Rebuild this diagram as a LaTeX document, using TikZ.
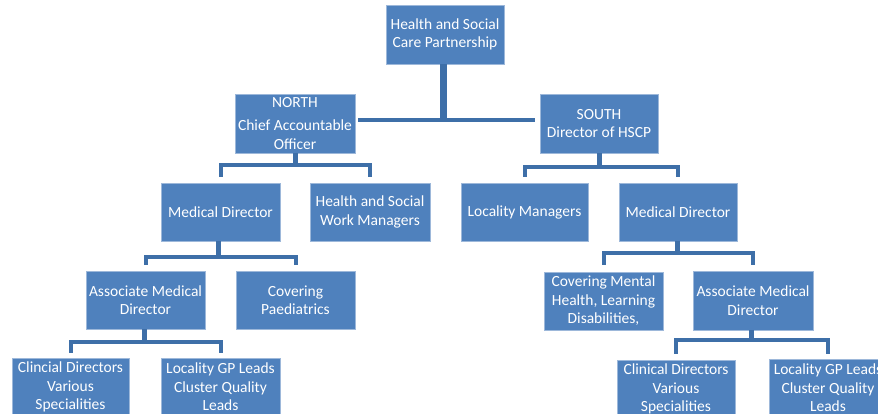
\documentclass[tikz,border=0pt]{standalone}
\usepackage{fontspec}
\setmainfont{Carlito}
\usetikzlibrary{calc}
\definecolor{boxblue}{HTML}{4F81BD}
\definecolor{boxedge}{HTML}{9DB8DA}
\definecolor{linkblue}{HTML}{3E6FA8}
\tikzset{
  orgbox/.style={draw=boxedge, line width=0.8pt, fill=boxblue, text=white,
    inner sep=0pt, align=center, font=\fontsize{15.5}{18.5}\selectfont},
  conn/.style={draw=linkblue, line width=4pt},
  stem/.style={draw=linkblue, line width=5pt},
}
\begin{document}
\begin{tikzpicture}[x=1pt,y=-1pt]
\useasboundingbox (0,0) rectangle (878,414);
\begin{scope}
\clip (0,0) rectangle (878,414);
% nodes
\node[orgbox, minimum width=118, minimum height=59] (hscp) at (445,34.5) {Health and Social\\Care Partnership};
\node[orgbox, minimum width=120, minimum height=59] (north) at (295,123.5) {NORTH\\[5pt]Chief Accountable\\Officer};
\node[orgbox, minimum width=118, minimum height=59] (south) at (599,123.5) {SOUTH\\Director of HSCP};
\node[orgbox, minimum width=119, minimum height=58] (mdn) at (220.5,212) {Medical Director};
\node[orgbox, minimum width=120, minimum height=58] (hswm) at (370,212) {Health and Social\\Work Managers};
\node[orgbox, minimum width=127, minimum height=58] (lm) at (524.5,212) {Locality Managers};
\node[orgbox, minimum width=118, minimum height=58] (mds) at (678,212) {Medical Director};
\node[orgbox, minimum width=119, minimum height=58] (amdn) at (145.5,300) {Associate Medical\\Director};
\node[orgbox, minimum width=119, minimum height=58] (paed) at (295.5,300) {Covering\\Paediatrics};
\node[orgbox, minimum width=119, minimum height=58] (cmh) at (603.5,301) {Covering Mental\\Health, Learning\\Disabilities,};
\node[orgbox, minimum width=120, minimum height=59] (amds) at (753,300.5) {Associate Medical\\Director};
\node[orgbox, minimum width=117, minimum height=58] (cdn) at (70.5,387) {Clincial Directors\\Various\\Specialities};
\node[orgbox, minimum width=119, minimum height=58] (gpn) at (220.5,387) {Locality GP Leads\\Cluster Quality\\Leads};
\node[orgbox, minimum width=118, minimum height=58] (cds) at (676,389) {Clinical Directors\\Various\\Specialities};
\node[orgbox, minimum width=118, minimum height=58] (gps) at (828,388) {Locality GP Leads\\Cluster Quality\\Leads};
% top connector
\coordinate (topbar) at ($(hscp.south)+(-2,56)$);
\draw[draw=linkblue, line width=7pt] ($(hscp.south)+(-2,0)$) -- (topbar);
\draw[conn] ($(north.east)+(3,-3)$) -- ($(south.west)+(-5,-3)$);
% north fork
\draw[stem] (north.south) -- ++(0,13);
\draw[conn, shorten >=6pt] ($(north.south)+(0,12)$) -| (mdn.north);
\draw[conn, shorten >=6pt] ($(north.south)+(0,12)$) -| (hswm.north);
% south fork
\draw[stem] (south.south) -- ++(0,15);
\draw[conn, shorten >=6pt] ($(south.south)+(0,14)$) -| (lm.north);
\draw[conn, shorten >=6pt] ($(south.south)+(0,14)$) -| (mds.north);
% medical director north fork
\draw[stem] ($(mdn.south)+(-2,0)$) -- ++(0,17);
\draw[conn, shorten >=6pt] ($(mdn.south)+(-2,16)$) -| (amdn.north);
\draw[conn, shorten >=6pt] ($(mdn.south)+(-2,16)$) -| (paed.north);
% medical director south fork
\draw[stem] ($(mds.south)+(-1,0)$) -- ++(0,13);
\draw[conn, shorten >=7pt] ($(mds.south)+(-1,12)$) -| (cmh.north);
\draw[conn, shorten >=6pt] ($(mds.south)+(-1,12)$) -| (amds.north);
% associate medical director north fork
\draw[stem] ($(amdn.south)+(-1,0)$) -- ++(0,14);
\draw[conn, shorten >=5pt] ($(amdn.south)+(-1,13)$) -| (cdn.north);
\draw[conn, shorten >=5pt] ($(amdn.south)+(-1,13)$) -| (gpn.north);
% associate medical director south fork
\draw[stem] ($(amds.south)+(-2,0)$) -- ++(0,11);
\draw[conn, shorten >=6pt] ($(amds.south)+(-2,10)$) -| (cds.north);
\draw[conn, shorten >=5pt] ($(amds.south)+(-2,10)$) -| (gps.north);
\end{scope}
\end{tikzpicture}
\end{document}
